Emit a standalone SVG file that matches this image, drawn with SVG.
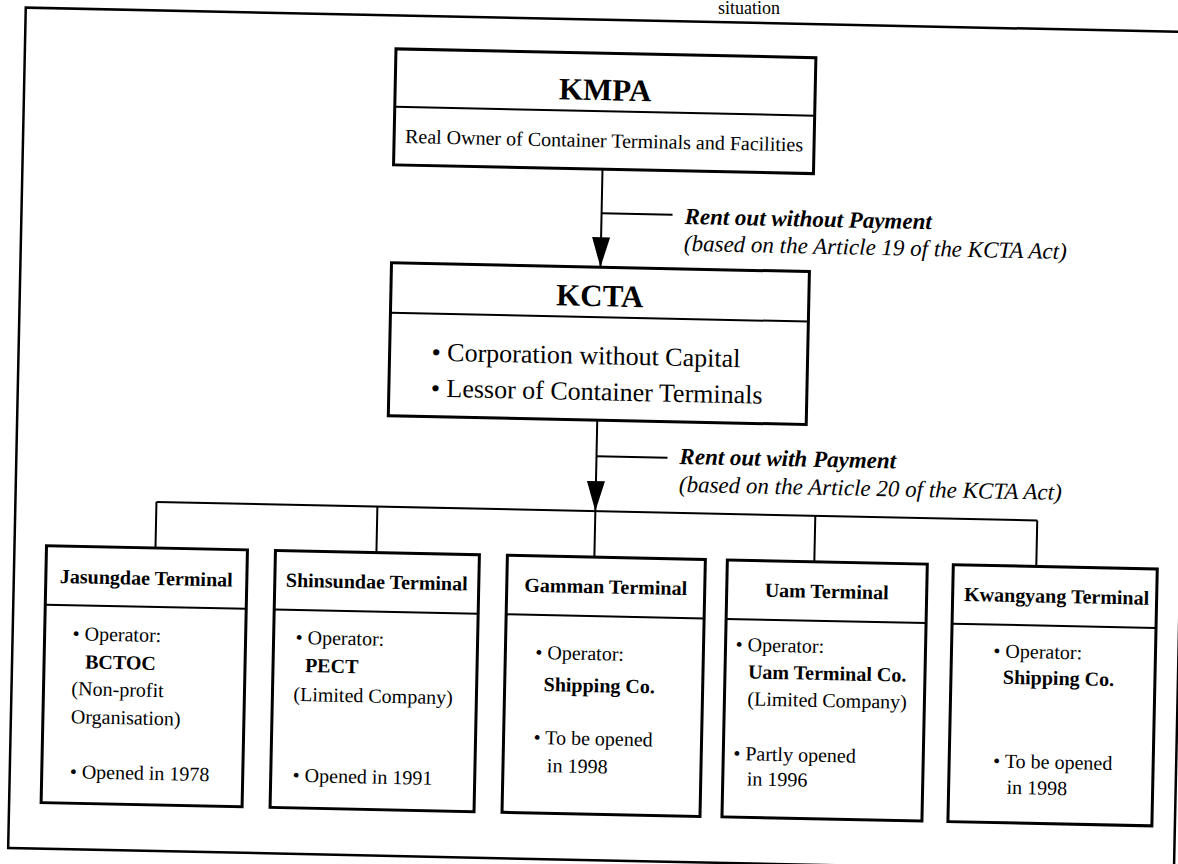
<svg xmlns="http://www.w3.org/2000/svg" width="1178" height="864" viewBox="0 0 1178 864">
<defs>
<style>
.bg{fill:#fff}
.frame{fill:none;stroke:#000;stroke-width:2.5}
.box{fill:#fff;stroke:#000;stroke-width:3}
.div{stroke:#000;stroke-width:2}
.conn{stroke:#000;stroke-width:2;fill:none}
.t{font-family:"Liberation Serif","Times New Roman",serif;fill:#000}
.b{font-weight:bold}
.i{font-style:italic}
.title{font-size:31px;font-weight:bold;text-anchor:middle}
.hd{font-size:20px;font-weight:bold;text-anchor:middle}
.bd{font-size:20px}
.kb{font-size:26px}
.lbl{font-size:23px;font-style:italic}
</style>
<marker id="arr" markerUnits="userSpaceOnUse" markerWidth="30" markerHeight="18" viewBox="0 0 30 18" refX="30" refY="9" orient="auto">
<path d="M0,0 L30,9 L0,18 Z" fill="#000"/>
</marker>
</defs>
<rect class="bg" x="0" y="0" width="1178" height="864"/>
<text class="t" x="718" y="14" font-size="18">situation</text>
<g transform="rotate(1.2 589 432)">
<rect class="frame" x="17" y="19.5" width="1166" height="840.5"/>

<g id="connectors">
<line class="conn" x1="597" y1="169" x2="597" y2="267" marker-end="url(#arr)"/>
<line class="conn" x1="597" y1="213" x2="668" y2="213"/>
<line class="conn" x1="597" y1="420" x2="597" y2="511" marker-end="url(#arr)"/>
<line class="conn" x1="597" y1="456" x2="668" y2="456"/>
<line class="conn" x1="158" y1="511" x2="1039" y2="511"/>
<line class="conn" x1="158" y1="511" x2="158" y2="557"/>
<line class="conn" x1="379" y1="511" x2="379" y2="557"/>
<line class="conn" x1="597" y1="511" x2="597" y2="557"/>
<line class="conn" x1="817" y1="511" x2="817" y2="557"/>
<line class="conn" x1="1039" y1="511" x2="1039" y2="557"/>
<text class="t b i" x="680" y="222" font-size="23">Rent out without Payment</text>
<text class="t lbl" x="680" y="249">(based on the Article 19 of the KCTA Act)</text>
<text class="t b i" x="680" y="462" font-size="23">Rent out with Payment</text>
<text class="t lbl" x="680" y="490">(based on the Article 20 of the KCTA Act)</text>
</g>

<g id="kmpa">
<rect class="box" x="388" y="53" width="420" height="116"/>
<line class="div" x1="388" y1="111" x2="808" y2="111"/>
<text class="t title" x="598" y="100">KMPA</text>
<text class="t" x="598" y="147" font-size="20" text-anchor="middle">Real Owner of Container Terminals and Facilities</text>
</g>

<g id="kcta">
<rect class="box" x="388" y="267" width="418" height="153"/>
<line class="div" x1="388" y1="317" x2="806" y2="317"/>
<text class="t title" x="597" y="306">KCTA</text>
<text class="t kb" x="430" y="364">• Corporation without Capital</text>
<text class="t kb" x="430" y="400">• Lessor of Container Terminals</text>
</g>

<g id="jasungdae">
<rect class="box" x="49" y="557" width="201" height="257"/>
<line class="div" x1="49" y1="616" x2="250" y2="616"/>
<text class="t hd" x="149.5" y="594">Jasungdae Terminal</text>
<text class="t bd" x="77" y="651">• Operator:</text>
<text class="t bd b" x="90" y="679">BCTOC</text>
<text class="t bd" x="77" y="706">(Non-profit</text>
<text class="t bd" x="77" y="734">Organisation)</text>
<text class="t bd" x="77" y="789">• Opened in 1978</text>
</g>

<g id="shinsundae">
<rect class="box" x="278" y="557" width="204" height="257"/>
<line class="div" x1="278" y1="616" x2="482" y2="616"/>
<text class="t hd" x="380" y="593">Shinsundae Terminal</text>
<text class="t bd" x="300" y="650">• Operator:</text>
<text class="t bd b" x="310" y="678">PECT</text>
<text class="t bd" x="299" y="707">(Limited Company)</text>
<text class="t bd" x="300" y="788">• Opened in 1991</text>
</g>

<g id="gamman">
<rect class="box" x="510" y="557" width="198" height="257"/>
<line class="div" x1="510" y1="616" x2="708" y2="616"/>
<text class="t hd" x="609" y="593">Gamman Terminal</text>
<text class="t bd" x="540" y="660">• Operator:</text>
<text class="t bd b" x="549" y="692">Shipping Co.</text>
<text class="t bd" x="540" y="745">• To be opened</text>
<text class="t bd" x="554" y="773">in 1998</text>
</g>

<g id="uam">
<rect class="box" x="730" y="557" width="200" height="257"/>
<line class="div" x1="730" y1="616" x2="930" y2="616"/>
<text class="t hd" x="830" y="593">Uam Terminal</text>
<text class="t bd" x="740" y="648">• Operator:</text>
<text class="t bd b" x="753" y="675">Uam Terminal Co.</text>
<text class="t bd" x="753" y="702">(Limited Company)</text>
<text class="t bd" x="740" y="757">• Partly opened</text>
<text class="t bd" x="754" y="782">in 1996</text>
</g>

<g id="kwangyang">
<rect class="box" x="956" y="557" width="204" height="257"/>
<line class="div" x1="956" y1="616" x2="1160" y2="616"/>
<text class="t hd" x="1060" y="593">Kwangyang Terminal</text>
<text class="t bd" x="998" y="649">• Operator:</text>
<text class="t bd b" x="1008" y="675">Shipping Co.</text>
<text class="t bd" x="1000" y="759">• To be opened</text>
<text class="t bd" x="1014" y="785">in 1998</text>
</g>
</g>
</svg>
